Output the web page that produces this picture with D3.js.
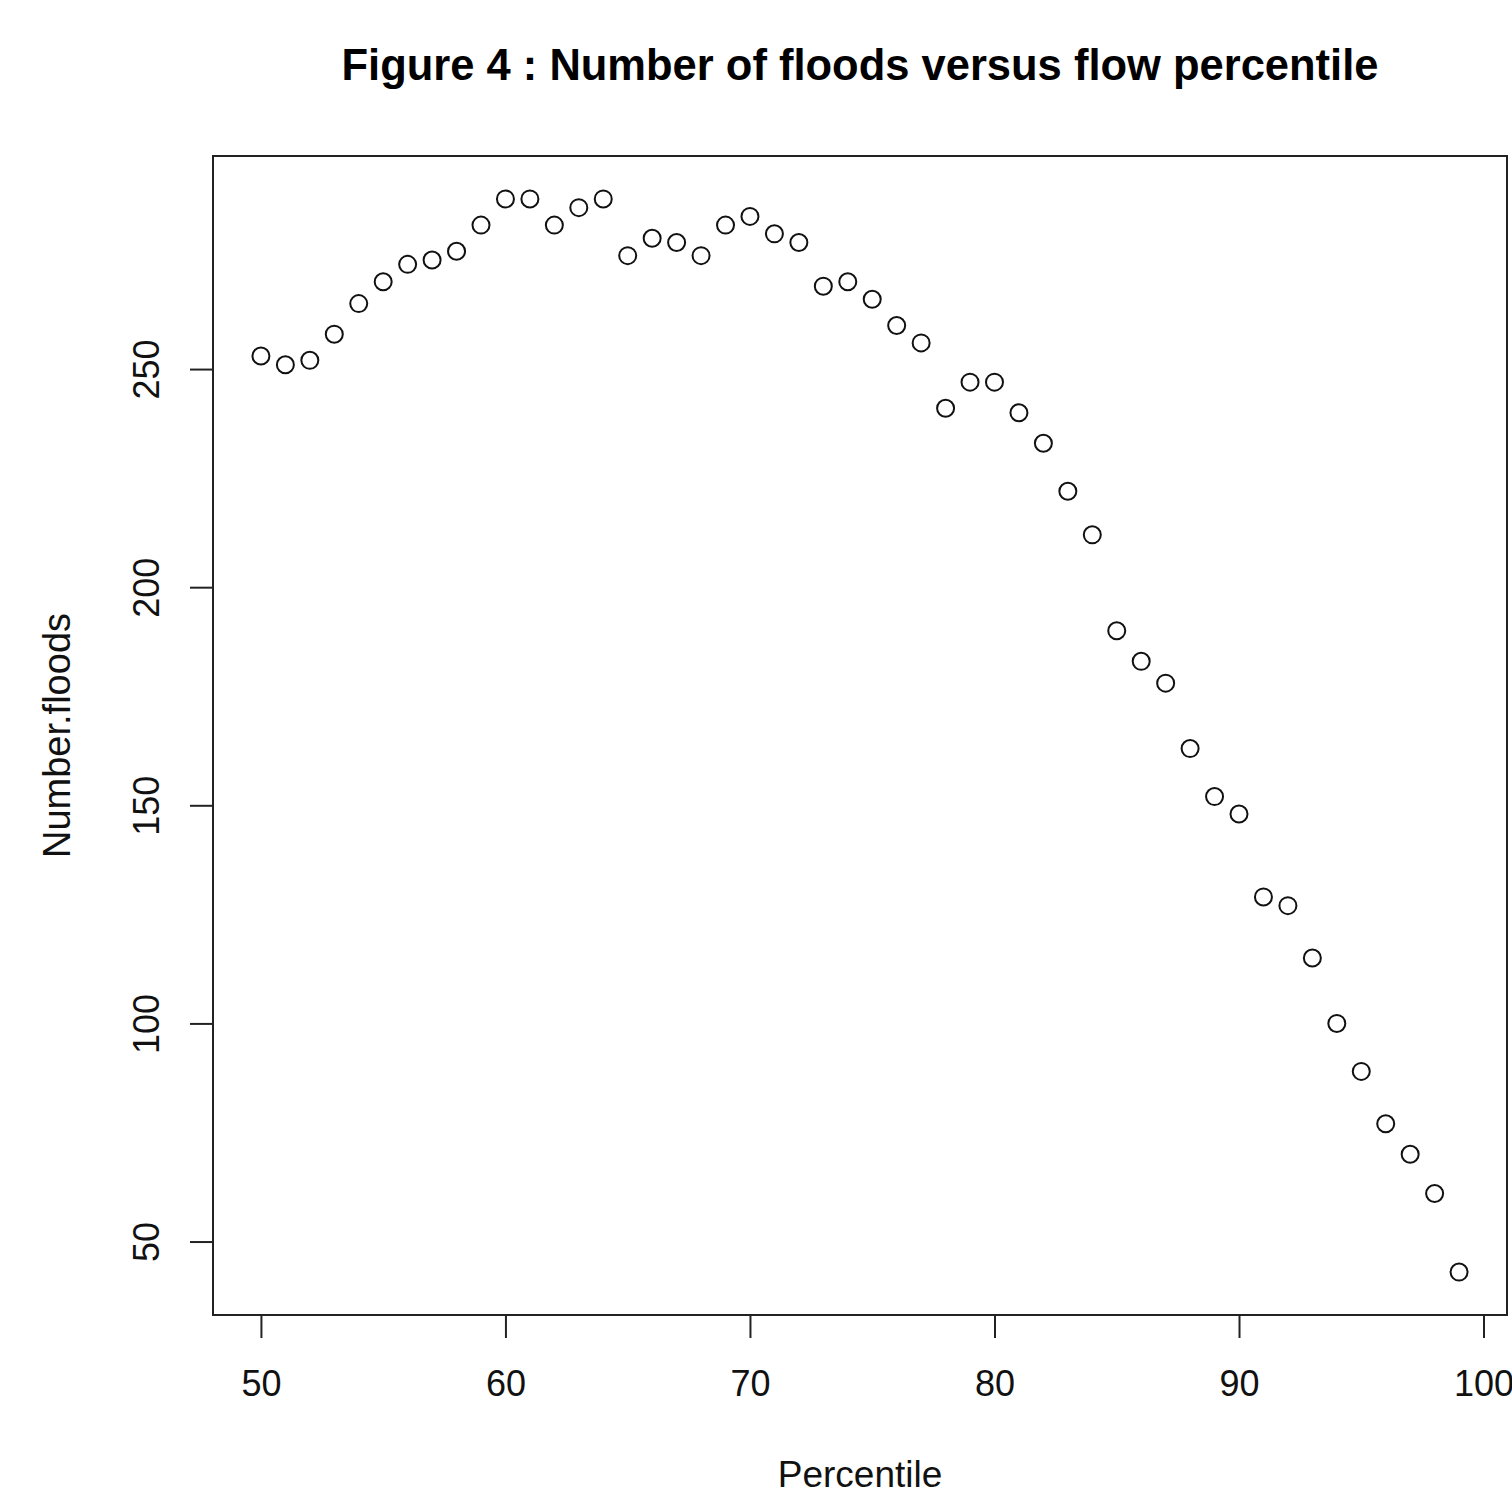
<!DOCTYPE html>
<html><head><meta charset="utf-8">
<script src="https://cdn.jsdelivr.net/npm/d3@7"></script>
<style>html,body{margin:0;padding:0;background:#fff;}svg{display:block;}</style>
</head><body>
<script>
const percentile = [50,51,52,53,54,55,56,57,58,59,60,61,62,63,64,65,66,67,68,69,70,71,72,73,74,75,76,77,78,79,80,81,82,83,84,85,86,87,88,89,90,91,92,93,94,95,96,97,98,99];
const numberFloods = [253,251,252,258,265,270,274,275,277,283,289,289,283,287,289,276,280,279,276,283,285,281,279,269,270,266,260,256,241,247,247,240,233,222,212,190,183,178,163,152,148,129,127,115,100,89,77,70,61,43];
const xTicks = [50,60,70,80,90,100];
const yTicks = [50,100,150,200,250];
const titleText = "Figure 4 : Number of floods versus flow percentile";
const xLabel = "Percentile";
const yLabel = "Number.floods";

(function () {
const W = 1512, H = 1489;
const mLeft = 213, mRight = 1507, mTop = 156, mBottom = 1315;
const font = "'Liberation Sans', Arial, sans-serif";

const svg = d3.select("body").append("svg").attr("width", W).attr("height", H);

const xmin = d3.min(percentile), xmax = d3.max(percentile);
const ymin = d3.min(numberFloods), ymax = d3.max(numberFloods);
const xr = (xmax - xmin) * 0.04, yr = (ymax - ymin) * 0.04;
const x = d3.scaleLinear().domain([xmin - xr, xmax + xr]).range([mLeft, mRight]);
const y = d3.scaleLinear().domain([ymin - yr, ymax + yr]).range([mBottom, mTop]);

svg.append("rect").attr("x", mLeft).attr("y", mTop).attr("width", mRight - mLeft).attr("height", mBottom - mTop)
  .attr("fill", "none").attr("stroke", "#222").attr("stroke-width", 2);

const xa = svg.append("g").attr("transform", `translate(0,${mBottom})`)
  .call(d3.axisBottom(x).tickValues(xTicks).tickSize(23).tickPadding(32).tickFormat(d3.format("d")));
xa.select(".domain").attr("d", `M${x(xTicks[0])},0H${x(xTicks[xTicks.length-1])}`).attr("stroke", "#222").attr("stroke-width", 2);
xa.selectAll(".tick line").attr("stroke", "#222").attr("stroke-width", 2);
xa.selectAll(".tick text").attr("font-family", font).attr("font-size", 36).attr("fill", "#111");

const ya = svg.append("g").attr("transform", `translate(${mLeft},0)`)
  .call(d3.axisLeft(y).tickValues(yTicks).tickSize(23).tickPadding(0).tickFormat(d3.format("d")));
ya.select(".domain").attr("d", `M0,${y(yTicks[0])}V${y(yTicks[yTicks.length-1])}`).attr("stroke", "#222").attr("stroke-width", 2);
ya.selectAll(".tick line").attr("stroke", "#222").attr("stroke-width", 2);
ya.selectAll(".tick text")
  .attr("font-family", font).attr("font-size", 36).attr("fill", "#111")
  .attr("x", null).attr("dy", null)
  .attr("text-anchor", "middle")
  .attr("transform", "translate(-54,0) rotate(-90)");

svg.append("g").selectAll("circle").data(percentile).join("circle")
  .attr("cx", (d) => x(d))
  .attr("cy", (d, i) => y(numberFloods[i]))
  .attr("r", 8.5)
  .attr("fill", "none").attr("stroke", "#111").attr("stroke-width", 2);

svg.append("text").attr("x", (mLeft + mRight) / 2).attr("y", 80)
  .attr("text-anchor", "middle").attr("font-family", font).attr("font-weight", "bold")
  .attr("font-size", 43.5).attr("fill", "#000").text(titleText);

svg.append("text").attr("x", (mLeft + mRight) / 2).attr("y", 1487)
  .attr("text-anchor", "middle").attr("font-family", font).attr("font-size", 37).attr("fill", "#111").text(xLabel);
svg.append("text").attr("transform", `translate(70,${(mTop + mBottom) / 2}) rotate(-90)`)
  .attr("text-anchor", "middle").attr("font-family", font).attr("font-size", 38).attr("fill", "#111").text(yLabel);
})();
</script>
</body></html>
